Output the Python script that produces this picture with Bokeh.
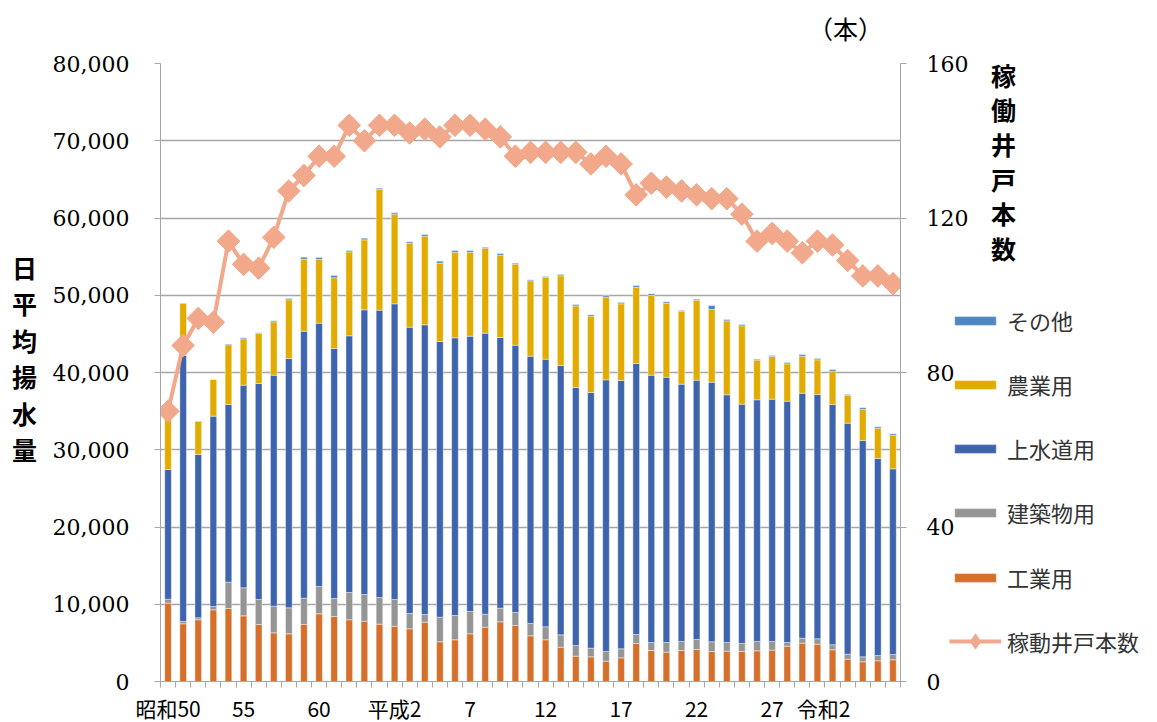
from bokeh.plotting import figure
from bokeh.models import (Range1d, LinearAxis, FixedTicker, NumeralTickFormatter,
                          Legend, LegendItem, Label, ColumnDataSource, GridBox)
from bokeh.embed import file_html
from bokeh.resources import INLINE

# ---------------- data ----------------
years = list(range(1975, 2024))
industrial = [10140, 7470, 7990, 9280, 9450, 8500, 7380, 6300, 6170, 7380,
              8760, 8410, 7990, 7810, 7420, 7160, 6820, 7680, 5140, 5400,
              6170, 7030, 7730, 7250, 5910, 5400, 4440, 3280, 3190, 2630,
              3060, 4920, 4010, 3800, 4010, 4140, 3880, 3930, 3880, 3970,
              4060, 4570, 4960, 4830, 4100, 2890, 2550, 2680, 2810]
building = [510, 300, 260, 430, 3410, 3630, 3240, 3450, 3370, 3410,
            3540, 2330, 3530, 3450, 3450, 3460, 1980, 990, 3190, 3140,
            2890, 1680, 1760, 1680, 1600, 1680, 1600, 1380, 1120, 1250,
            1170, 1160, 1040, 1250, 1170, 1300, 1260, 1120, 1040, 1210,
            1120, 480, 650, 700, 650, 650, 640, 690, 690]
water = [16790, 34430, 21140, 24640, 23000, 26230, 27960, 29900, 32270, 34560,
         34090, 32370, 33230, 36850, 37200, 38270, 37070, 37500, 35680, 35950,
         35640, 36380, 35040, 34600, 34600, 34640, 34860, 33400, 33100, 35170,
         34730, 35080, 34600, 34340, 33310, 33570, 33610, 32060, 30980, 31290,
         31370, 31240, 31710, 31620, 31110, 29900, 28010, 25500, 24030]
agri = [7760, 6770, 4310, 4740, 7730, 6000, 6470, 6910, 7600, 9320,
        8240, 9150, 10870, 9060, 15620, 11600, 10870, 11480, 10140, 11080,
        10870, 11000, 10660, 10490, 9760, 10580, 11620, 10570, 9880, 10700,
        9930, 9880, 10320, 9580, 9410, 10350, 9410, 9580, 10140, 5130,
        5520, 4830, 4790, 4490, 4310, 3580, 4010, 3920, 4350]
other = [100, 30, 20, 30, 110, 140, 100, 140, 170, 260,
         260, 300, 170, 220, 170, 180, 180, 210, 260, 220,
         220, 110, 210, 130, 130, 130, 170, 170, 180, 220,
         170, 220, 220, 180, 130, 130, 510, 170, 170, 120,
         130, 180, 220, 170, 220, 130, 220, 180, 180]
wells = [70, 87, 94, 93, 114, 108, 107, 115, 127, 131,
         136, 136, 144, 140, 144, 144, 142, 143, 141, 144,
         144, 143, 141, 136, 137, 137, 137, 137, 134, 136,
         134, 126, 129, 128, 127, 126, 125, 125, 121, 114,
         116, 114, 111, 114, 113, 109, 105, 105, 103]

series_names = ["工業用", "建築物用", "上水道用", "農業用", "その他"]
series_keys = ["industrial", "building", "water", "agri", "other"]
series_colors = ["#D4702C", "#959595", "#3D64AD", "#E2AB00", "#4F87BE"]
well_name = "稼動井戸本数"
well_color = "#F2A88A"

tick_pos = [0, 5, 10, 15, 20, 25, 30, 35, 40, 43.4]
tick_labels = ["昭和50", "55", "60", "平成2", "7", "12", "17", "22", "27", "令和2"]
left_ticks = [0, 10000, 20000, 30000, 40000, 50000, 60000, 70000, 80000]
right_ticks = [0, 40, 80, 120, 160]

left_title = "日平均揚水量"
right_title = "稼働井戸本数"
unit_text = "（本）"

# ---------------- sizes ----------------
W, H = 1150, 720
FL, FT, FW, FH = 160, 63, 740, 618   # frame left/top/width/height (px)

SERIF = "DejaVu Serif"
SANS = "Noto Sans CJK JP"
GRID = "#A6A6A6"

src = ColumnDataSource(dict(x=list(range(len(years))), industrial=industrial,
                            building=building, water=water, agri=agri, other=other,
                            wells=wells))

# ---------------- main chart ----------------
p = figure(frame_width=FW, frame_height=FH,
           min_border_left=FL, min_border_right=W - FL - FW,
           min_border_top=FT, min_border_bottom=H - FT - FH,
           x_range=Range1d(-0.5, len(years) - 0.5), y_range=Range1d(0, 80000),
           output_backend="svg", toolbar_location=None)
p.frame_align = False
p.extra_y_ranges = {"wells": Range1d(0, 160)}
p.outline_line_color = None
p.background_fill_color = "white"
p.border_fill_color = "white"

bars = p.vbar_stack(series_keys, x="x", width=0.44, color=series_colors,
                    line_color="white", line_width=0.6, line_alpha=0.7, source=src)
p.line("x", "wells", source=src, y_range_name="wells", line_color=well_color, line_width=4)
p.scatter("x", "wells", source=src, y_range_name="wells", marker="square", size=16,
          angle=0.7853981634, fill_color=well_color, line_color=well_color)

p.xgrid.visible = False
p.ygrid.ticker = FixedTicker(ticks=left_ticks)
p.ygrid.grid_line_color = GRID
p.ygrid.grid_line_width = 1.3

ya = p.yaxis[0]
ya.ticker = FixedTicker(ticks=left_ticks)
ya.formatter = NumeralTickFormatter(format="0,0")
ya.major_label_text_font = SERIF
ya.major_label_text_font_size = "22px"
ya.major_label_text_color = "black"
ya.axis_line_color = GRID
ya.major_tick_line_color = GRID
ya.major_tick_out = 6
ya.major_tick_in = 0
ya.minor_tick_line_color = None
ya.major_label_standoff = 25

ra = LinearAxis(y_range_name="wells", ticker=FixedTicker(ticks=right_ticks))
ra.major_label_text_font = SERIF
ra.major_label_text_font_size = "22px"
ra.major_label_text_color = "black"
ra.axis_line_color = GRID
ra.major_tick_line_color = GRID
ra.major_tick_out = 6
ra.major_tick_in = 0
ra.minor_tick_line_color = None
ra.major_label_standoff = 20
p.add_layout(ra, "right")

xa = p.xaxis[0]
xa.ticker = FixedTicker(ticks=tick_pos, minor_ticks=[i - 0.5 for i in range(len(years) + 1)])
xa.major_label_overrides = {t: l for t, l in zip(tick_pos, tick_labels)}
xa.major_label_text_font = SANS
xa.major_label_text_font_size = "21px"
xa.major_label_text_color = "black"
xa.axis_line_color = GRID
xa.major_tick_line_color = None
xa.major_tick_out = 0
xa.major_tick_in = 0
xa.minor_tick_line_color = GRID
xa.minor_tick_out = 6
xa.minor_tick_in = 0
xa.major_label_standoff = 5

# ---------------- overlay (titles + legend), pixel coordinates ----------------
ov = figure(width=W, height=H, x_range=Range1d(0, W), y_range=Range1d(H, 0),
            min_border=0, x_axis_location=None, y_axis_location=None,
            output_backend="svg", toolbar_location=None)
ov.frame_align = False
ov.grid.visible = False
ov.outline_line_color = None
ov.background_fill_color = None
ov.border_fill_color = None

for i, ch in enumerate(left_title):
    ov.add_layout(Label(x=24, y=266 + 36.5 * i, text=ch, text_font=SANS,
                        text_font_size="25px", text_font_style="bold",
                        text_align="center", text_baseline="middle", text_color="black"))
for i, ch in enumerate(right_title):
    ov.add_layout(Label(x=1003, y=74 + 34.7 * i, text=ch, text_font=SANS,
                        text_font_size="25px", text_font_style="bold",
                        text_align="center", text_baseline="middle", text_color="black"))
ov.add_layout(Label(x=845, y=27, text=unit_text, text_font=SANS, text_font_size="25px",
                    text_align="center", text_baseline="middle", text_color="black"))

# legend proxies (kept outside the visible range; only their style is used)
proxy_x = [-50]
proxies = {}
for name, c in zip(series_names, series_colors):
    proxies[name] = [ov.vbar(x=proxy_x, top=[-50], width=1, color=c,
                             line_color="white", line_width=0.6, line_alpha=0.7)]
proxies[well_name] = [ov.line(x=[-60, -50], y=[-50, -50], line_color=well_color, line_width=4),
                      ov.scatter(x=proxy_x, y=[-50], marker="diamond", size=16,
                                 fill_color=well_color, line_color=well_color)]

legend_order = ["その他", "農業用", "上水道用", "建築物用", "工業用", well_name]
legend_centers = [320, 384, 448, 512, 577, 641]
LH = 40
for name, cy in zip(legend_order, legend_centers):
    gh = 38 if name == well_name else 11
    leg = Legend(items=[LegendItem(label=name, renderers=proxies[name])],
                 location=(949, H - cy - LH / 2),
                 padding=0, margin=0, spacing=0, border_line_color=None,
                 background_fill_alpha=0, glyph_width=52, glyph_height=gh,
                 label_height=LH, label_standoff=6,
                 label_text_font=SANS, label_text_font_size="22px",
                 label_text_color="#333333")
    ov.add_layout(leg)

layout = GridBox(children=[(p, 0, 0), (ov, 0, 0)])
open("out.html", "w").write(file_html(layout, INLINE))
